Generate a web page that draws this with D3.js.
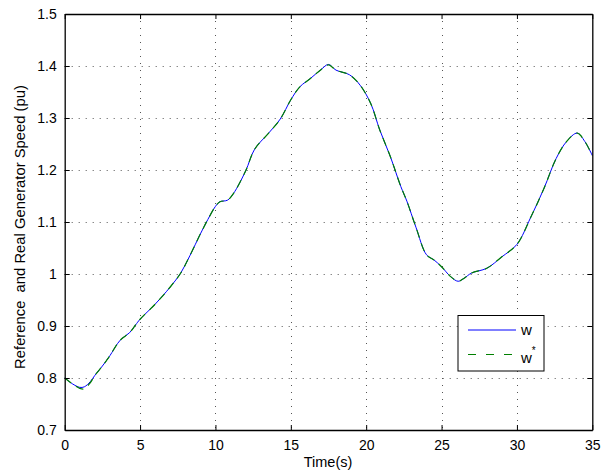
<!DOCTYPE html>
<html>
<head>
<meta charset="utf-8">
<script src="https://cdn.jsdelivr.net/npm/d3@7"></script>
<style>
  body { margin: 0; background: #fff; }
  text { font-family: "Liberation Sans", Arial, sans-serif; fill: #000; }
</style>
</head>
<body>
<div class="canvas"></div>
<script>
// time samples (s)
const time = [0, 0.5, 1.0, 1.3, 1.7, 2.0, 2.5, 3.0, 3.5, 3.8, 4.3, 4.7, 5.0, 6.0, 7.0, 7.7,
  8.3, 9.0, 9.5, 10.0, 10.3, 10.8, 11.2, 12.0, 12.6, 13.5, 14.3, 15.0, 15.6, 16.3, 17.0,
  17.5, 18.0, 18.9, 19.6, 20.3, 20.9, 21.6, 22.3, 22.7, 23.3, 24.0, 24.5, 25.0, 25.6,
  26.1, 26.5, 27.0, 28.0, 29.0, 30.0, 30.9, 31.8, 32.6, 33.3, 34.0, 34.5, 35.0];
// real generator speed w (pu)
const wReal = [0.800, 0.789, 0.782, 0.783, 0.793, 0.805, 0.823, 0.843, 0.866, 0.876, 0.887,
  0.902, 0.913, 0.942, 0.975, 1.002, 1.035, 1.077, 1.105, 1.130, 1.139, 1.142, 1.155,
  1.198, 1.240, 1.270, 1.298, 1.335, 1.360, 1.376, 1.393, 1.403, 1.392, 1.383, 1.363,
  1.328, 1.277, 1.226, 1.168, 1.140, 1.090, 1.037, 1.027, 1.014, 0.995, 0.986, 0.992,
  1.002, 1.011, 1.033, 1.057, 1.108, 1.165, 1.222, 1.255, 1.271, 1.255, 1.228];
// reference speed w* (pu)
const wRef = [0.800, 0.789, 0.780, 0.779, 0.791, 0.805, 0.823, 0.843, 0.866, 0.876, 0.887,
  0.902, 0.913, 0.942, 0.975, 1.002, 1.035, 1.077, 1.105, 1.130, 1.139, 1.142, 1.155,
  1.198, 1.240, 1.270, 1.298, 1.335, 1.360, 1.376, 1.393, 1.402, 1.392, 1.383, 1.363,
  1.328, 1.277, 1.226, 1.168, 1.140, 1.090, 1.037, 1.027, 1.014, 0.995, 0.986, 0.992,
  1.002, 1.011, 1.033, 1.057, 1.108, 1.165, 1.222, 1.255, 1.271, 1.255, 1.228];
const xTicks = [0, 5, 10, 15, 20, 25, 30, 35];
const yTicks = [0.7, 0.8, 0.9, 1, 1.1, 1.2, 1.3, 1.4, 1.5];

const dims = {width: 608, height: 472};
const plot = {left: 64.7, right: 592.3, top: 14, bottom: 430};

const svg = d3.select(".canvas")
    .append("svg")
    .attr("width", dims.width)
    .attr("height", dims.height);
svg.append("rect").attr("width", dims.width).attr("height", dims.height).attr("fill", "#fff");

const x = d3.scaleLinear().domain([0, 35]).range([plot.left, plot.right]);
const y = d3.scaleLinear().domain([0.7, 1.5]).range([plot.bottom, plot.top]);

// grid
const grid = svg.append("g")
    .attr("stroke", "#555")
    .attr("stroke-width", 1)
    .attr("stroke-dasharray", "1,6");
grid.selectAll("line.vg")
    .data(xTicks.slice(1, -1))
    .enter().append("line")
    .attr("x1", d => Math.round(x(d)) + 0.5).attr("x2", d => Math.round(x(d)) + 0.5)
    .attr("y1", plot.top).attr("y2", plot.bottom);
grid.selectAll("line.hg")
    .data(yTicks.slice(1, -1))
    .enter().append("line")
    .attr("y1", d => Math.round(y(d)) + 0.5).attr("y2", d => Math.round(y(d)) + 0.5)
    .attr("x1", plot.left).attr("x2", plot.right);

// curves
const pts = (vals) => time.map((t, i) => [t, vals[i]]);
const line = d3.line()
    .x(d => x(d[0]))
    .y(d => y(d[1]))
    .curve(d3.curveCatmullRom.alpha(0.5));

svg.append("path")
    .attr("d", line(pts(wReal)))
    .attr("fill", "none")
    .attr("stroke", "#0000ff")
    .attr("stroke-width", 1);
svg.append("path")
    .attr("d", line(pts(wRef)))
    .attr("fill", "none")
    .attr("stroke", "#008000")
    .attr("stroke-width", 1.2)
    .attr("stroke-dasharray", "8,6");

// axes (ticks inside, on all four sides)
const xAxis = d3.axisBottom(x).tickValues(xTicks).tickSizeInner(-5).tickSizeOuter(0).tickPadding(10)
    .tickFormat(d3.format("d"));
const yAxis = d3.axisLeft(y).tickValues(yTicks).tickSizeInner(-5).tickSizeOuter(0).tickPadding(8)
    .tickFormat(d => d === 1 ? "1" : d3.format(".1f")(d));

const gx = svg.append("g").attr("transform", `translate(0,${plot.bottom})`).call(xAxis);
const gy = svg.append("g").attr("transform", `translate(${plot.left},0)`).call(yAxis);
svg.append("g").attr("transform", `translate(0,${plot.top})`)
    .call(d3.axisTop(x).tickValues(xTicks).tickSizeInner(-5).tickSizeOuter(0).tickFormat(""));
svg.append("g").attr("transform", `translate(${plot.right},0)`)
    .call(d3.axisRight(y).tickValues(yTicks).tickSizeInner(-5).tickSizeOuter(0).tickFormat(""));

svg.selectAll(".domain").attr("stroke", "#000").attr("stroke-width", 1.3);
svg.selectAll(".tick line").attr("stroke", "#000");
gx.selectAll("text").style("font-size", "14px").attr("fill", "#000")
    .style("font-family", "'Liberation Sans', Arial, sans-serif");
gy.selectAll("text").style("font-size", "14px").attr("fill", "#000")
    .style("font-family", "'Liberation Sans', Arial, sans-serif");

// axis labels
svg.append("text")
    .attr("x", 328)
    .attr("y", 467)
    .attr("text-anchor", "middle")
    .style("font-size", "14.5px")
    .text("Time(s)");
svg.append("text")
    .attr("transform", `translate(25,227) rotate(-90)`)
    .attr("text-anchor", "middle")
    .style("font-size", "14.8px")
    .style("white-space", "pre")
    .attr("xml:space", "preserve")
    .text("Reference  and Real Generator Speed (pu)");

// legend
const legendGroup = svg.append("g").attr("transform", "translate(458,315.5)");
legendGroup.append("rect")
    .attr("width", 86).attr("height", 55.5)
    .attr("fill", "#fff").attr("stroke", "#000").attr("stroke-width", 1);
legendGroup.append("line")
    .attr("x1", 10).attr("x2", 58).attr("y1", 14.5).attr("y2", 14.5)
    .attr("stroke", "#0000ff");
legendGroup.append("line")
    .attr("x1", 10).attr("x2", 58).attr("y1", 39).attr("y2", 39)
    .attr("stroke", "#008000").attr("stroke-dasharray", "8,10");
legendGroup.append("text")
    .attr("x", 63).attr("y", 19)
    .style("font-size", "15px")
    .text("w");
const wStar = legendGroup.append("text")
    .attr("x", 63).attr("y", 47)
    .style("font-size", "15px");
wStar.append("tspan").text("w");
wStar.append("tspan").attr("dy", -9).style("font-size", "10px").text("*");
</script>
</body>
</html>
